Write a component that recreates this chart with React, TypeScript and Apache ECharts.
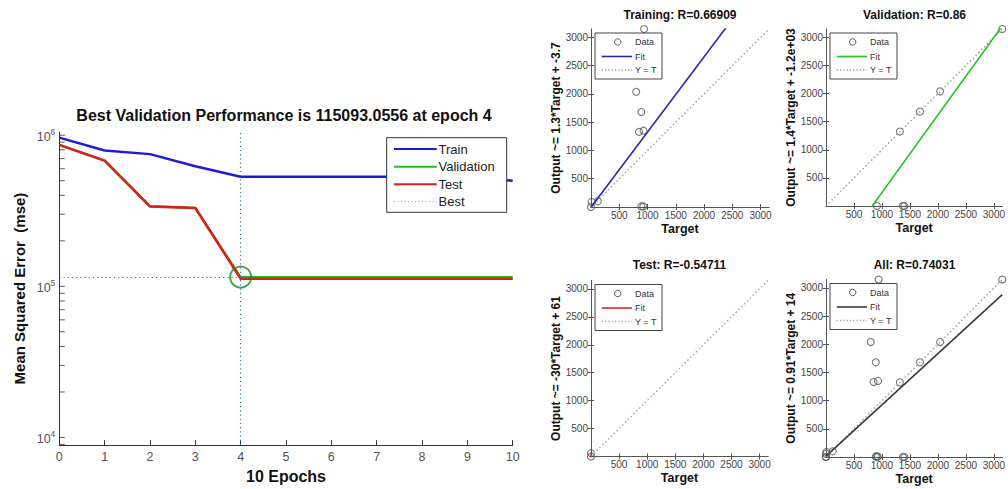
import React, { useEffect, useRef } from 'react';
import * as echarts from 'echarts';

// ---------- Performance plot data ----------
const epochs = [0, 1, 2, 3, 4, 5, 6, 7, 8, 9, 10];
const trainMse = [963000, 792000, 750000, 623000, 531000, 531000, 531000, 531000, 531000, 531000, 500000];
const validationMse = [863000, 679000, 338000, 330000, 115093, 115093, 115093, 115093, 115093, 115093, 115093];
const testMse = [863000, 679000, 338000, 330000, 112300, 112300, 112300, 112300, 112300, 112300, 112300];
const bestEpoch = 4;
const bestPerf = 115093.0556;
const mseTicks = [1e4, 1e5, 1e6];
const mseMinorTicks = [9e3, 2e4, 3e4, 4e4, 5e4, 6e4, 7e4, 8e4, 9e4, 2e5, 3e5, 4e5, 5e5, 6e5, 7e5, 8e5, 9e5];
const epochTicks = [0, 1, 2, 3, 4, 5, 6, 7, 8, 9, 10];

// ---------- Regression plot data (target, output) ----------
const trainingPoints = [
  [0, 0], [10, 90], [120, 100], [890, 10], [925, 10],
  [800, 2040], [890, 1680], [850, 1330], [930, 1350], [940, 3150],
];
const validationPoints = [
  [910, 0], [1375, 0], [1400, 0], [1320, 1325], [1680, 1680], [2040, 2040], [3150, 3150],
];
const testPoints = [[0, 0], [0, 60]];
const allPoints = [...trainingPoints, ...validationPoints, ...testPoints];

const trainingFit = [1.33, -3.7];
const validationFit = [1.38, -1140];
const testFit = [-30, 61];
const allFit = [0.91, 14];

const regLimits = [0, 3150];
const regTicks = [500, 1000, 1500, 2000, 2500, 3000];

const FONT = '"Liberation Sans", Arial, Helvetica, sans-serif';

const panels = [
  { title: 'Training: R=0.66909', ylabel: 'Output ~= 1.3*Target + -3.7', points: trainingPoints, fit: trainingFit, color: '#2a2aa8', yt: '#a0a0a8', box: [591, 29, 178, 178] },
  { title: 'Validation: R=0.86', ylabel: 'Output ~= 1.4*Target + -1.2e+03', points: validationPoints, fit: validationFit, color: '#22c422', yt: '#a0a0a0', box: [826, 29, 177, 177] },
  { title: 'Test: R=-0.54711', ylabel: 'Output ~= -30*Target + 61', points: testPoints, fit: testFit, color: '#e02424', yt: '#b0a898', box: [591, 280.5, 177, 176] },
  { title: 'All: R=0.74031', ylabel: 'Output ~= 0.91*Target + 14', points: allPoints, fit: allFit, color: '#3a3a3a', yt: '#a0a0a0', box: [826, 279.5, 177, 177.5] },
];

function buildOption() {
  const grid: any[] = [{ left: 59.3, top: 132, width: 453.4, height: 317.3 }];
  const xAxis: any[] = [
    {
      type: 'value', gridIndex: 0, min: 0, max: 10, interval: 1,
      axisLine: { show: true, lineStyle: { color: '#333', width: 1 } },
      axisTick: { show: true, inside: true, length: 5, lineStyle: { color: '#333' }, customValues: epochTicks },
      axisLabel: { fontSize: 12.5, color: '#555', margin: 5, fontFamily: FONT, customValues: epochTicks, formatter: (v: number) => String(v) },
      splitLine: { show: false },
      name: '10 Epochs', nameLocation: 'middle', nameGap: 18,
      nameTextStyle: { fontSize: 16, fontWeight: 'bold', color: '#111', fontFamily: FONT },
    },
  ];
  const yAxis: any[] = [
    {
      type: 'log', logBase: 10, gridIndex: 0, min: 8900, max: 1050000,
      axisLine: { show: true, lineStyle: { color: '#333', width: 1 } },
      axisTick: { show: false },
      axisLabel: {
        customValues: mseTicks, margin: 4,
        formatter: (v: number) => {
          const l = Math.log10(v);
          const e = Math.round(l);
          return Math.abs(l - e) < 1e-6 ? `{b|10}{s|${e}}` : '';
        },
        rich: {
          b: { fontSize: 12.5, color: '#555', fontFamily: FONT, verticalAlign: 'bottom', lineHeight: 16 },
          s: { fontSize: 8.5, color: '#555', fontFamily: FONT, verticalAlign: 'top', lineHeight: 9 },
        },
      },
      splitLine: { show: false },
      name: 'Mean Squared Error  (mse)', nameLocation: 'middle', nameGap: 32, nameRotate: 90,
      nameTextStyle: { fontSize: 15, fontWeight: 'bold', color: '#111', fontFamily: FONT },
    },
  ];

  const series: any[] = [
    {
      name: 'yTicks', type: 'scatter', xAxisIndex: 0, yAxisIndex: 0, silent: true, clip: false,
      data: [...mseTicks, ...mseMinorTicks].map((v) => [0, v]),
      symbol: 'rect', symbolSize: [5, 1], symbolOffset: [3, 0],
      itemStyle: { color: '#333' }, z: 1,
    },
    {
      name: 'Train', type: 'line', xAxisIndex: 0, yAxisIndex: 0, symbol: 'none',
      data: epochs.map((e, i) => [e, trainMse[i]]),
      lineStyle: { color: '#1c1cd4', width: 2.4 }, itemStyle: { color: '#1c1cd4' },
    },
    {
      name: 'Validation', type: 'line', xAxisIndex: 0, yAxisIndex: 0, symbol: 'none',
      data: epochs.map((e, i) => [e, validationMse[i]]),
      lineStyle: { color: '#1fc21f', width: 2.2 }, itemStyle: { color: '#1fc21f' },
      markLine: {
        silent: true, symbol: 'none', label: { show: false },
        data: [
          { xAxis: bestEpoch, lineStyle: { color: '#2f7f8f', type: [1.2, 3], width: 1.2 } },
          [
            { coord: [0, bestPerf], lineStyle: { color: '#2d8f3d', type: [1.2, 3], width: 1.2 } },
            { coord: [bestEpoch, bestPerf] },
          ],
        ],
      },
    },
    {
      name: 'Test', type: 'line', xAxisIndex: 0, yAxisIndex: 0, symbol: 'none',
      data: epochs.map((e, i) => [e, testMse[i]]),
      lineStyle: { color: '#dc1e1e', width: 2.6 }, itemStyle: { color: '#dc1e1e' },
    },
    {
      name: 'Best', type: 'scatter', xAxisIndex: 0, yAxisIndex: 0,
      data: [[bestEpoch, bestPerf]], symbol: 'circle', symbolSize: 21,
      itemStyle: { color: 'rgba(0,0,0,0)', borderColor: '#1b8a1b', borderWidth: 2 },
      z: 5,
    },
  ];

  const titles: any[] = [
    {
      text: 'Best Validation Performance is 115093.0556 at epoch 4', left: 284, top: 107, textAlign: 'center', padding: 0,
      textStyle: { fontSize: 16, fontWeight: 'bold', color: '#111', fontFamily: FONT },
    },
  ];

  const graphics: any[] = [];
  // performance legend
  const lg = { x: 386.7, y: 137.7, w: 120, h: 74.6 };
  graphics.push({ type: 'rect', z: 100, shape: { x: lg.x, y: lg.y, width: lg.w, height: lg.h }, style: { fill: '#fff', stroke: '#333', lineWidth: 1 } });
  const legendRows = [
    { label: 'Train', color: '#1c1cd4', dash: null, y: 149 },
    { label: 'Validation', color: '#1fc21f', dash: null, y: 166.7 },
    { label: 'Test', color: '#dc1e1e', dash: null, y: 184.3 },
    { label: 'Best', color: '#8a9aa8', dash: [1, 2.5], y: 201.7 },
  ];
  legendRows.forEach((r) => {
    graphics.push({ type: 'line', z: 101, shape: { x1: 394, y1: r.y, x2: 436.7, y2: r.y }, style: { stroke: r.color, lineWidth: r.dash ? 1 : 2, lineDash: r.dash || undefined } });
    graphics.push({ type: 'text', z: 101, style: { text: r.label, x: 438.5, y: r.y, fill: '#222', font: `13px ${FONT}`, verticalAlign: 'middle', align: 'left' } });
  });

  panels.forEach((p, i) => {
    const gi = i + 1;
    const [L, T, W, H] = p.box;
    grid.push({ left: L, top: T, width: W, height: H });
    const baseAxis = {
      type: 'value', gridIndex: gi, min: regLimits[0], max: regLimits[1],
      axisLine: { show: true, lineStyle: { color: '#555', width: 1 } },
      splitLine: { show: false },
    };
    const tick = { show: true, inside: true, length: 3, lineStyle: { color: '#555' }, customValues: regTicks };
    const label = { fontSize: 10, color: '#444', margin: 3, fontFamily: FONT, customValues: regTicks, formatter: (v: number) => String(v) };
    xAxis.push({
      ...baseAxis, position: 'bottom', axisTick: tick, axisLabel: label,
      name: 'Target', nameLocation: 'middle', nameGap: 15,
      nameTextStyle: { fontSize: 12.5, fontWeight: 'bold', color: '#111', fontFamily: FONT },
    });
    xAxis.push({ ...baseAxis, position: 'top', axisTick: tick, axisLabel: { show: false } });
    yAxis.push({
      ...baseAxis, position: 'left', axisTick: tick, axisLabel: label,
      name: p.ylabel, nameLocation: 'middle', nameGap: 27, nameRotate: 90,
      nameTextStyle: { fontSize: 12, fontWeight: 'bold', color: '#111', fontFamily: FONT },
    });
    yAxis.push({ ...baseAxis, position: 'right', axisTick: tick, axisLabel: { show: false } });
    const xi = 1 + i * 2;
    const yi = 1 + i * 2;
    const [a, b] = p.fit;
    series.push({
      name: 'Y = T', type: 'line', xAxisIndex: xi, yAxisIndex: yi, symbol: 'none', clip: true,
      data: [[regLimits[0], regLimits[0]], [regLimits[1], regLimits[1]]],
      lineStyle: { color: p.yt, width: 1.5, type: [1.5, 2.5] },
    });
    series.push({
      name: 'Fit', type: 'line', xAxisIndex: xi, yAxisIndex: yi, symbol: 'none', clip: true,
      data: [[regLimits[0], a * regLimits[0] + b], [regLimits[1], a * regLimits[1] + b]],
      lineStyle: { color: p.color, width: 1.6 },
    });
    series.push({
      name: 'Data', type: 'scatter', xAxisIndex: xi, yAxisIndex: yi, clip: false,
      data: p.points, symbol: 'circle', symbolSize: 7,
      itemStyle: { color: 'rgba(0,0,0,0)', borderColor: '#555', borderWidth: 1.1 },
    });
    titles.push({
      text: p.title, left: L + W / 2, top: T < 100 ? 9 : 259, textAlign: 'center', padding: 0,
      textStyle: { fontSize: 12, fontWeight: 'bold', color: '#111', fontFamily: FONT },
    });
    // legend inside panel
    const bx = L + 4, by = T + 4;
    graphics.push({ type: 'rect', z: 100, shape: { x: bx, y: by, width: 67, height: 46 }, style: { fill: '#fff', stroke: '#444', lineWidth: 1 } });
    graphics.push({ type: 'circle', z: 101, shape: { cx: bx + 22.7, cy: by + 9, r: 3.2 }, style: { fill: 'none', stroke: '#555', lineWidth: 1 } });
    graphics.push({ type: 'line', z: 101, shape: { x1: bx + 6.7, y1: by + 23.5, x2: bx + 37, y2: by + 23.5 }, style: { stroke: p.color, lineWidth: 1.6 } });
    graphics.push({ type: 'line', z: 101, shape: { x1: bx + 6.7, y1: by + 37, x2: bx + 37, y2: by + 37 }, style: { stroke: p.yt, lineWidth: 1.3, lineDash: [1.3, 2] } });
    [['Data', 9], ['Fit', 23.5], ['Y = T', 37]].forEach(([t, dy]) => {
      graphics.push({ type: 'text', z: 101, style: { text: t, x: bx + 40, y: by + (dy as number), fill: '#333', font: `9px ${FONT}`, verticalAlign: 'middle', align: 'left' } });
    });
  });

  return {
    animation: false,
    backgroundColor: '#fff',
    title: titles,
    grid,
    xAxis,
    yAxis,
    series,
    graphic: graphics,
  };
}

export default function App() {
  const ref = useRef<HTMLDivElement>(null);
  useEffect(() => {
    if (!ref.current) return;
    const chart = echarts.init(ref.current, undefined, { renderer: 'svg' });
    chart.setOption(buildOption() as any);
    return () => chart.dispose();
  }, []);
  return <div ref={ref} style={{ position: 'fixed', left: 0, top: 0, width: 1008, height: 489 }} />;
}
